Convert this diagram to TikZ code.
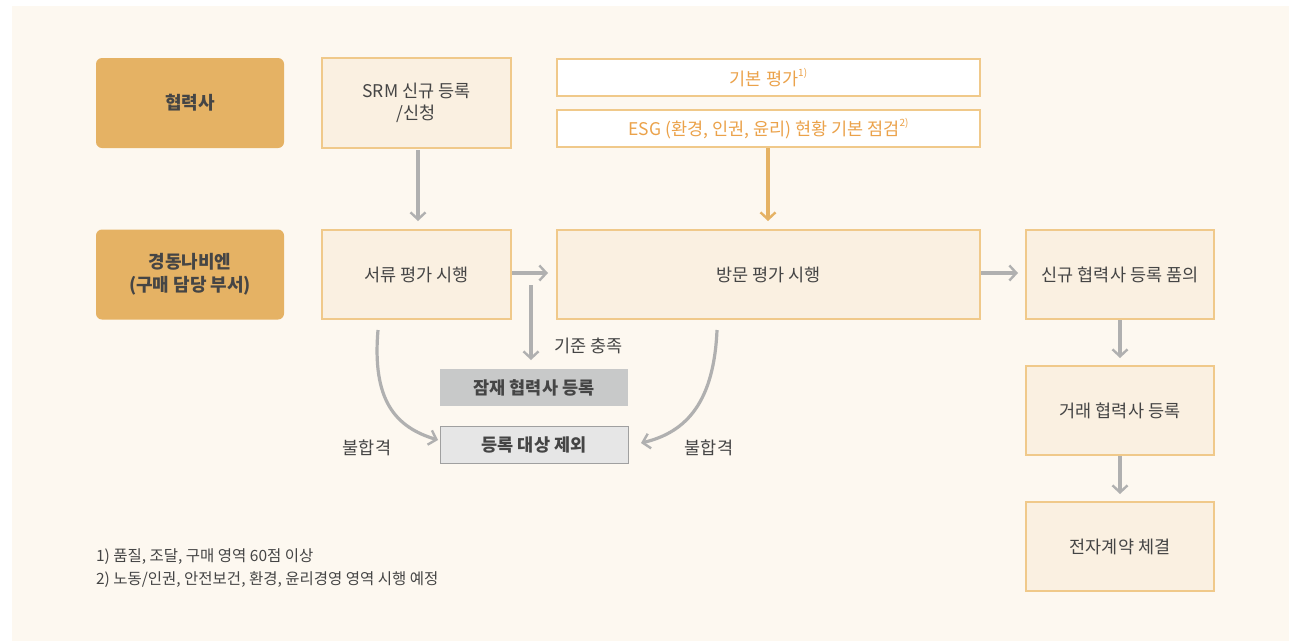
\documentclass[tikz,border=0pt]{standalone}
\usepackage{fontspec}
\setmainfont{Noto Sans CJK KR}
\usetikzlibrary{arrows.meta}
\definecolor{panel}{HTML}{FDF8F0}
\definecolor{boxfill}{HTML}{FAF0E1}
\definecolor{boxline}{HTML}{F0C98A}
\definecolor{dark}{HTML}{E5B264}
\definecolor{txt}{HTML}{454545}
\definecolor{orangetxt}{HTML}{EBA24A}
\definecolor{arrowgray}{HTML}{B0B0B0}
\definecolor{graybox}{HTML}{C8C9C9}
\definecolor{lightgray}{HTML}{E6E6E6}
\definecolor{grayline}{HTML}{A0A0A0}
\newcommand{\fnsup}[1]{\raisebox{0.55em}{\fontsize{10}{12}\selectfont #1}}
\begin{document}
\begin{tikzpicture}[x=1pt,y=-1pt,
  every node/.style={inner sep=0pt, outer sep=0pt, text=txt, font=\fontsize{17.5}{22}\selectfont},
  rolebox/.style={fill=dark, rounded corners=6pt, minimum width=188pt, minimum height=90pt, font=\fontsize{18}{23}\selectfont\bfseries, text=txt, align=center},
  stepbox/.style={fill=boxfill, draw=boxline, line width=1.2pt, align=center},
  evalbox/.style={fill=white, draw=boxline, line width=1.2pt, text=orangetxt, minimum width=423pt, minimum height=37pt},
  potbox/.style={fill=graybox, minimum width=188pt, minimum height=37pt, font=\fontsize{17.5}{22}\selectfont\bfseries},
  exbox/.style={fill=lightgray, draw=grayline, line width=1pt, minimum width=188pt, minimum height=37pt, font=\fontsize{17.5}{22}\selectfont\bfseries},
  garrow/.style={draw=arrowgray, line width=3.2pt, -{Straight Barb[length=7pt,width=15pt,line width=2.4pt]}},
  oarrow/.style={draw=dark, line width=3.2pt, -{Straight Barb[length=7pt,width=15pt,line width=2.4pt]}},
  lbl/.style={font=\fontsize{17.5}{22}\selectfont}
]
\useasboundingbox (0,0) rectangle (1289,641);
\fill[white] (0,0) rectangle (1289,641);
\fill[panel] (12,6) rectangle (1289,641);

\node[rolebox] (partner) at (190,103) {협력사};
\node[rolebox] (kd) at (190,274.5) {경동나비엔\\(구매 담당 부서)};

\node[stepbox, minimum width=189pt, minimum height=90pt] (srm) at (416.5,103) {SRM 신규 등록\\/신청};
\node[evalbox] (basic) at (768.5,77.5) {기본 평가\fnsup{1)}};
\node[evalbox] (esg) at (768.5,128.5) {ESG (환경, 인권, 윤리) 현황 기본 점검\fnsup{2)}};

\node[stepbox, minimum width=189pt, minimum height=89pt] (doc) at (416.5,274.5) {서류 평가 시행};
\node[stepbox, minimum width=423pt, minimum height=89pt] (visit) at (768.5,274.5) {방문 평가 시행};
\node[stepbox, minimum width=188pt, minimum height=89pt] (newreg) at (1120,274.5) {신규 협력사 등록 품의};
\node[stepbox, minimum width=188pt, minimum height=89pt] (trade) at (1120,410.5) {거래 협력사 등록};
\node[stepbox, minimum width=188pt, minimum height=89pt] (contract) at (1120,546.5) {전자계약 체결};

\node[potbox] (pot) at (534,387.5) {잠재 협력사 등록};
\node[exbox] (ex) at (534,444.5) {등록 대상 제외};

\coordinate (srmS) at (418,150);
\coordinate (docN) at (418,221);
\draw[garrow] (srmS) -- (docN);
\coordinate (esgS) at (768,148);
\coordinate (visitN) at (768,221);
\draw[oarrow] (esgS) -- (visitN);
\coordinate (d1) at (512,273);
\draw[garrow] (d1) -- (548,273);
\coordinate (visitE) at (981,273);
\draw[garrow] (visitE) -- (1018,273);
\coordinate (crit1) at (531,285);
\coordinate (crit2) at (531,360);
\draw[garrow] (crit1) -- (crit2);
\node[lbl, anchor=west] (critlbl) at (554,346) {기준 충족};

\coordinate (lc1) at (378,330);
\draw[garrow] (lc1) .. controls (372,400) and (395,427) .. (438,440);
\node[lbl] (fail1) at (367,448) {불합격};
\coordinate (rc1) at (717,330);
\draw[garrow] (rc1) .. controls (714,400) and (688,432) .. (641,443);
\node[lbl] (fail2) at (709,448) {불합격};

\coordinate (nrS) at (1120,320);
\draw[garrow] (nrS) -- (1120,358);
\coordinate (trS) at (1120,456);
\draw[garrow] (trS) -- (1120,494);

\node[anchor=west, font=\fontsize{15.5}{19}\selectfont] (fn1) at (96,557) {1) 품질, 조달, 구매 영역 60점 이상};
\node[anchor=west, font=\fontsize{15.5}{19}\selectfont] (fn2) at (96,580) {2) 노동/인권, 안전보건, 환경, 윤리경영 영역 시행 예정};
\end{tikzpicture}
\end{document}
